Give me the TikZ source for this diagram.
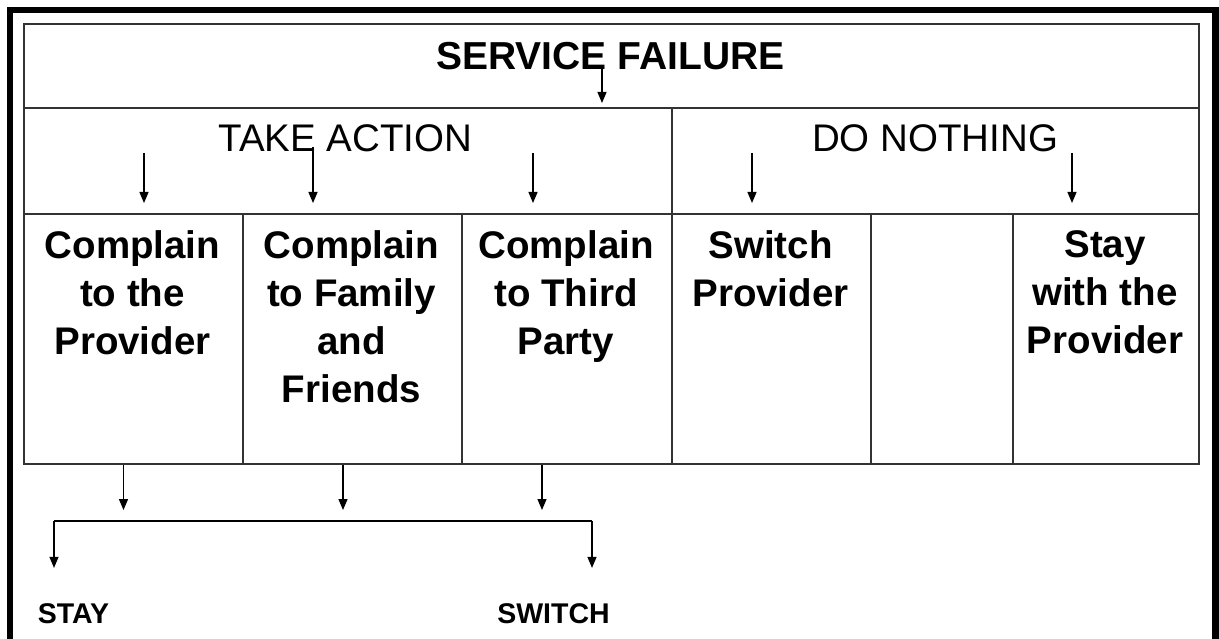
\documentclass[tikz,border=0pt]{standalone}
\usepackage{fontspec}
\setmainfont{Liberation Sans}
\usetikzlibrary{arrows.meta}
\begin{document}
\begin{tikzpicture}[x=1pt,y=-1pt,
  grid/.style={draw=black!80,line width=1.6pt,rectangle,inner sep=0pt,anchor=north west},
  arr/.style={-{Triangle[length=11pt,width=9pt]},line width=1.3pt},
  celltxt/.style={font=\bfseries\fontsize{38.5}{48}\selectfont,align=center,inner sep=0pt,anchor=north},
  headtxt/.style={font=\fontsize{38.5}{46}\selectfont,inner sep=0pt,anchor=base},
  endtxt/.style={font=\bfseries\fontsize{28.5}{34}\selectfont,inner sep=0pt,anchor=base}
]
\useasboundingbox (0,0) rectangle (1219,639);
\fill[white] (0,0) rectangle (1219,639);
% outer frame
\draw[line width=6.5pt] (10,10) rectangle (1215.5,700);

% table cells
\node[grid,minimum width=1175pt,minimum height=84pt] (sf) at (23,23) {};
\node[grid,minimum width=648pt,minimum height=106pt] (ta) at (23,107) {};
\node[grid,minimum width=527pt,minimum height=106pt] (dn) at (671,107) {};
\node[grid,minimum width=219pt,minimum height=250pt] (c1) at (23,213) {};
\node[grid,minimum width=219pt,minimum height=250pt] (c2) at (242,213) {};
\node[grid,minimum width=210pt,minimum height=250pt] (c3) at (461,213) {};
\node[grid,minimum width=199pt,minimum height=250pt] (c4) at (671,213) {};
\node[grid,minimum width=142pt,minimum height=250pt] (c5) at (870,213) {};
\node[grid,minimum width=186pt,minimum height=250pt] (c6) at (1012,213) {};

% texts
\node[font=\bfseries\fontsize{39}{47}\selectfont,inner sep=0pt,anchor=base] (sfl) at (610.5,70) {SERVICE FAILURE};
\node[headtxt] (tal) at (345.5,152) {TAKE ACTION};
\node[headtxt] (dnl) at (935,152) {DO NOTHING};
\node[celltxt] (t1) at (132.5,230) {Complain\\to the\\Provider};
\node[celltxt] (t2) at (351.5,230) {Complain\\to Family\\and\\Friends};
\node[celltxt] (t3) at (566,230) {Complain\\to Third\\Party};
\node[celltxt] (t4) at (770.5,230) {Switch\\Provider};
\node[celltxt] (t6) at (1105,230) {Stay\\with the\\Provider};
\node[endtxt] (stay) at (73.5,623) {STAY};
\node[endtxt] (switch) at (553.5,623) {SWITCH};

% arrows from headings
\coordinate (s0) at (602,65);
\draw[arr,shorten >=4pt] (s0) -- (s0 |- ta.north);
\coordinate (a1) at (144,153);
\coordinate (a2) at (313,147);
\coordinate (a3) at (533,153);
\coordinate (a4) at (752,153);
\coordinate (a5) at (1072,153);
\draw[arr,shorten >=10pt] (a1) -- (a1 |- c1.north);
\draw[arr,shorten >=10pt] (a2) -- (a2 |- c2.north);
\draw[arr,shorten >=10pt] (a3) -- (a3 |- c3.north);
\draw[arr,shorten >=10pt] (a4) -- (a4 |- c4.north);
\draw[arr,shorten >=10pt] (a5) -- (a5 |- c6.north);

% bottom arrows and bar
\coordinate (m1) at (123.5,521);
\coordinate (m2) at (343,521);
\coordinate (m3) at (542,521);
\coordinate (bl) at (54,521);
\coordinate (br) at (592,521);
\draw[arr,shorten >=11pt] (c1.south -| m1) -- (m1);
\draw[arr,shorten >=11pt] (c2.south -| m2) -- (m2);
\draw[arr,shorten >=11pt] (c3.south -| m3) -- (m3);
\draw[line width=1.3pt] (bl) -- (br);
\draw[arr,shorten >=35pt] (bl) -- (bl |- stay.north);
\draw[arr,shorten >=35pt] (br) -- (br |- switch.north);
\end{tikzpicture}
\end{document}
